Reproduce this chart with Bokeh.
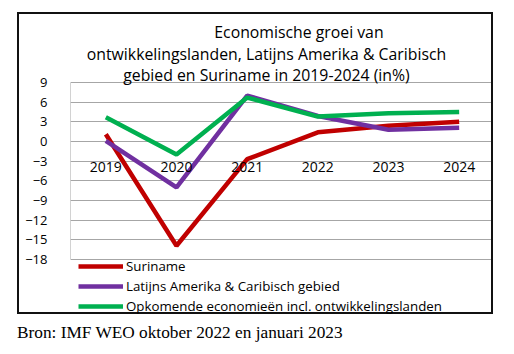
from bokeh.plotting import figure
from bokeh.models import (Range1d, FixedTicker, Legend, LegendItem,
                          Label, Div, ColumnDataSource)
from bokeh.layouts import column
from bokeh.embed import file_html
from bokeh.resources import INLINE
from bokeh.core.properties import value

years = ["2019", "2020", "2021", "2022", "2023", "2024"]
suriname = [1.1, -15.9, -2.7, 1.4, 2.4, 3.0]
latam = [0.1, -7.0, 7.0, 3.9, 1.8, 2.1]
emde = [3.7, -2.0, 6.7, 3.8, 4.3, 4.5]
y_ticks = [-18, -15, -12, -9, -6, -3, 0, 3, 6, 9]
series_names = ["Suriname", "Latijns Amerika & Caribisch gebied",
                "Opkomende economieën incl. ontwikkelingslanden"]
title_lines = ["Economische groei  van",
               "ontwikkelingslanden, Latijns Amerika & Caribisch",
               "gebied en Suriname in 2019-2024 (in%)"]
source_text = "Bron: IMF WEO oktober 2022 en januari 2023"

FONT = "Open Sans"
colors = ["#c00000", "#7030a0", "#00b050"]
GRID = "#a6a6a6"

# layout in pixels (inside the bordered chart box)
W, H = 476, 302
plot_top_px, plot_bottom_px = 68, 245       # where the 9 and -18 grid lines sit
y_lo_t, y_hi_t = min(y_ticks), max(y_ticks)
ppu = (plot_bottom_px - plot_top_px) / (y_hi_t - y_lo_t)
y_range = Range1d(y_lo_t - (H - plot_bottom_px) / ppu, y_hi_t + plot_top_px / ppu)

xs = list(range(len(years)))
x_lo, x_hi = -0.5, len(years) - 0.5

p = figure(width=W, height=H, x_range=Range1d(x_lo, x_hi), y_range=y_range,
           output_backend="svg", toolbar_location=None,
           min_border_left=51, min_border_right=1, min_border_top=0,
           min_border_bottom=0)
p.styles = {"border": "2px solid #111"}
p.margin = (12, 0, 0, 17)
p.background_fill_color = "white"
p.border_fill_color = "white"
p.outline_line_color = None

p.xaxis.visible = False
p.xgrid.visible = False
p.ygrid.grid_line_color = GRID
p.ygrid.grid_line_width = 1
p.ygrid.ticker = FixedTicker(ticks=y_ticks)
p.yaxis.ticker = FixedTicker(ticks=y_ticks)
p.yaxis.axis_line_color = None
p.yaxis.major_tick_line_color = None
p.yaxis.minor_tick_line_color = None
p.yaxis.major_label_standoff = 17
p.yaxis.major_label_text_font = FONT
p.yaxis.major_label_text_font_size = "13px"
p.yaxis.major_label_text_color = "#000000"

# plot-area side edges
p.segment(x0=[x_lo, x_hi], y0=[y_lo_t, y_lo_t], x1=[x_lo, x_hi], y1=[y_hi_t, y_hi_t],
          line_color=GRID, line_width=1)

src = ColumnDataSource(dict(x=xs, year=years, s=suriname, l=latam, e=emde,
                            zero=[0] * len(years)))
renderers = []
for col, c in zip(["s", "l", "e"], colors):
    r = p.line("x", col, source=src, line_color=c, line_width=4.5)
    renderers.append(r)

p.text(x="x", y="zero", text="year", source=src, text_font=value(FONT),
       text_font_size="14px", text_align="center", text_baseline="alphabetic",
       y_offset=25.5, text_color="#000000")

legend = Legend(items=[LegendItem(label=n, renderers=[r])
                       for n, r in zip(series_names, renderers)],
                location=(8, 0), orientation="vertical",
                glyph_width=45, glyph_height=20, label_height=20,
                label_standoff=3, spacing=0, padding=0, margin=0,
                border_line_color=None, background_fill_alpha=0,
                label_text_font=FONT, label_text_font_size="13.3px",
                label_text_color="#000000")
p.add_layout(legend, "center")

title_x = [230.5, 196, 196]
title_baseline_y = [284.3, 262.7, 241.7]
for t, tx, ty in zip(title_lines, title_x, title_baseline_y):
    p.add_layout(Label(x=tx, y=ty, x_units="screen", y_units="screen", text=t,
                       text_font=FONT, text_font_size="15.8px",
                       text_align="center", text_baseline="alphabetic",
                       text_color="#000000"))

div = Div(text=source_text, width=500, height=24, margin=(7, 0, 0, 17),
          styles={"font-family": "'Liberation Serif', 'Times New Roman', serif",
                  "font-size": "17.3px", "color": "#000", "white-space": "nowrap"})

layout = column(p, div, spacing=0)
open("out.html", "w").write(file_html(layout, INLINE))
